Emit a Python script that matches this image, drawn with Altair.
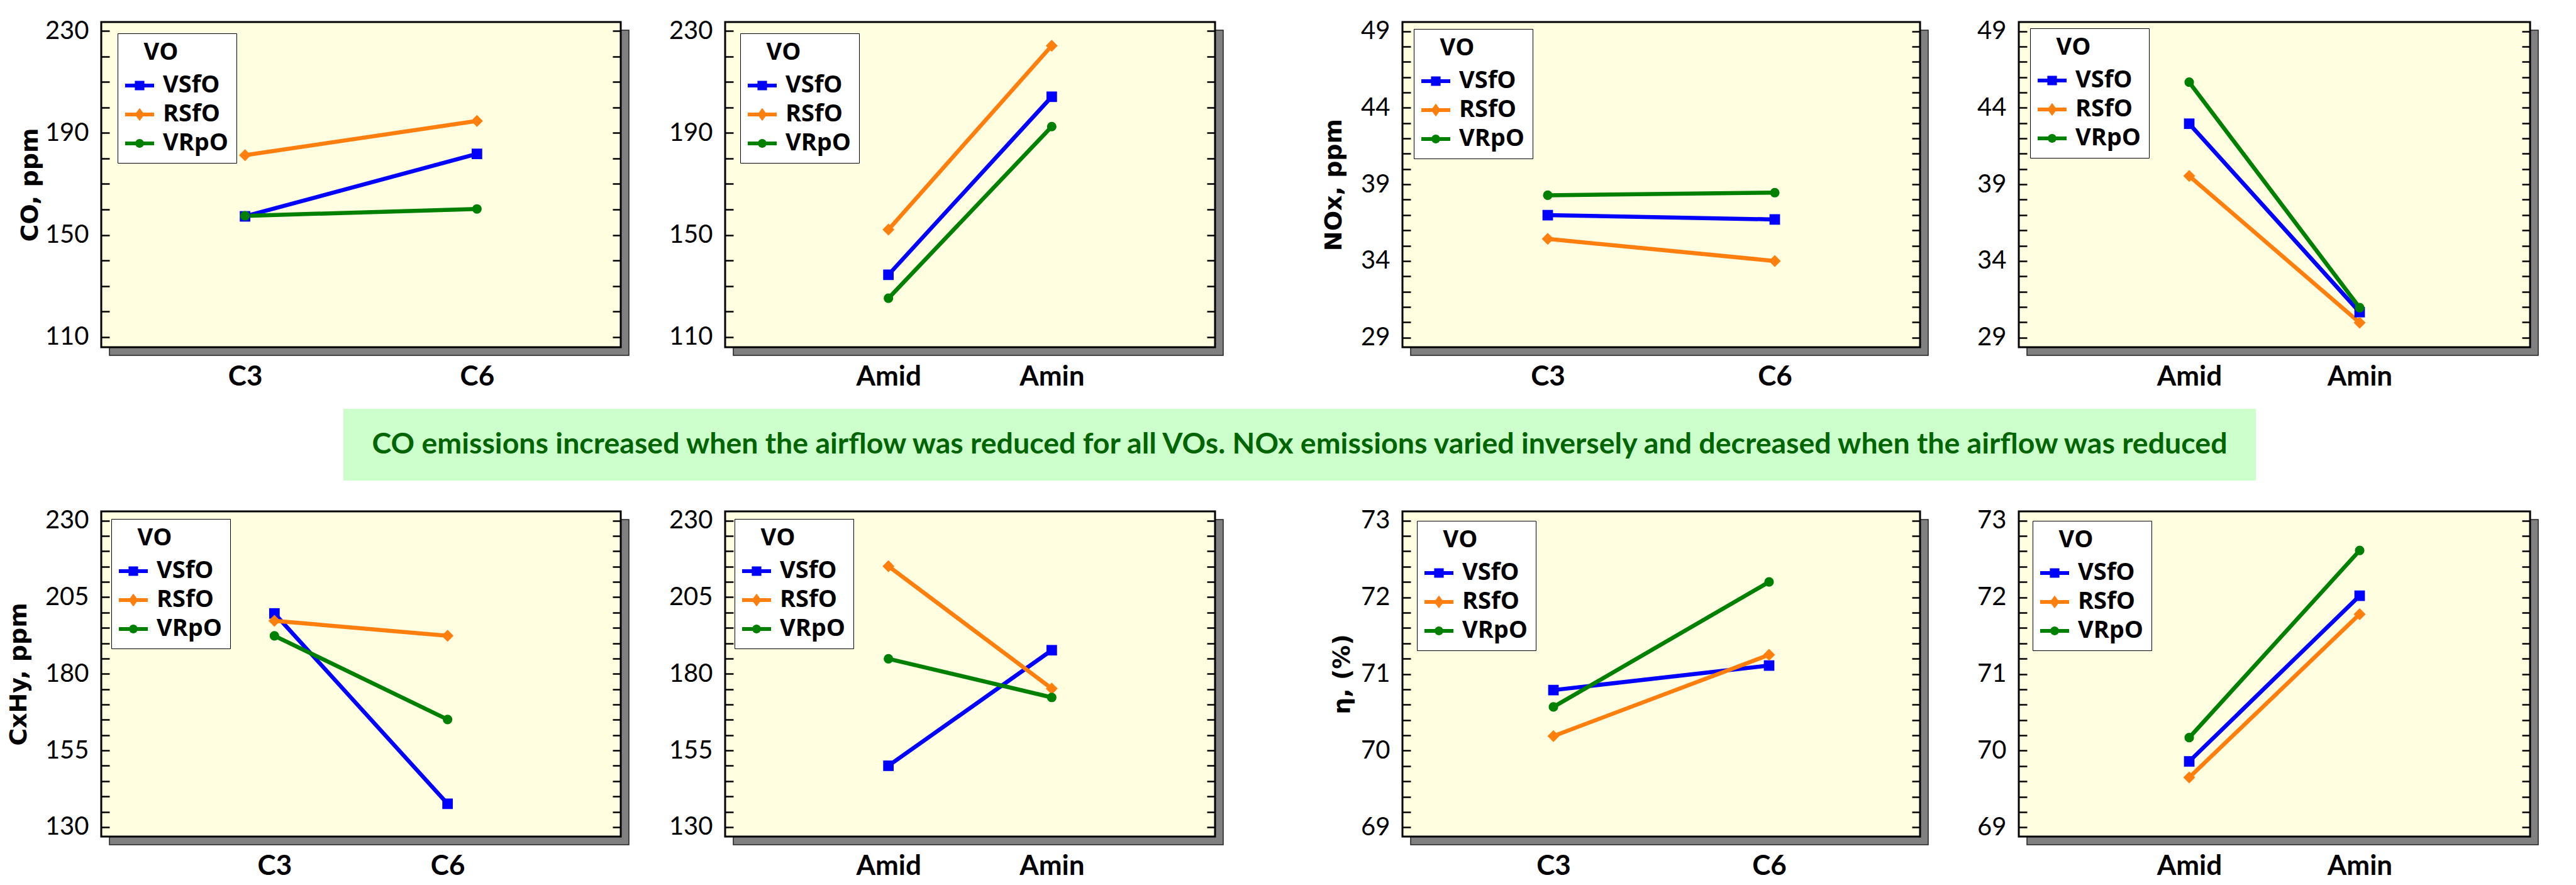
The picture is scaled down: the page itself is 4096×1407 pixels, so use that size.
import altair as alt
import pandas as pd

# ---------------- data ----------------
VO = ["VSfO", "RSfO", "VRpO"]
COLORS = ["#0000FF", "#FF7F0E", "#008000"]
CFG = ["C3", "C6"]
AIR = ["Amid", "Amin"]

# rows in VO order (VSfO, RSfO, VRpO); columns follow CFG or AIR
CO_CFG = [[157.3, 181.8], [181.3, 194.7], [157.5, 160.2]]
CO_AIR = [[134.4, 204.2], [152.1, 224.2], [125.2, 192.5]]
NOX_CFG = [[36.99, 36.71], [35.44, 34.00], [38.29, 38.46]]
NOX_AIR = [[42.96, 30.66], [39.55, 29.97], [45.67, 30.95]]
HC_CFG = [[199.7, 137.6], [197.3, 192.4], [192.4, 165.1]]
HC_AIR = [[150.0, 187.7], [215.1, 175.2], [184.9, 172.3]]
ETA_CFG = [[70.79, 71.11], [70.19, 71.25], [70.57, 72.20]]
ETA_AIR = [[69.86, 72.02], [69.65, 71.78], [70.17, 72.61]]

CO_TICKS = [110, 120, 130, 140, 150, 160, 170, 180, 190, 200, 210, 220, 230]
CO_MAJOR = [110, 150, 190, 230]
NOX_TICKS = [29, 30, 31, 32, 33, 34, 35, 36, 37, 38, 39, 40, 41, 42, 43, 44, 45, 46, 47, 48, 49]
NOX_MAJOR = [29, 34, 39, 44, 49]
HC_TICKS = [130, 135, 140, 145, 150, 155, 160, 165, 170, 175, 180, 185, 190, 195, 200,
            205, 210, 215, 220, 225, 230]
HC_MAJOR = [130, 155, 180, 205, 230]
ETA_TICKS = [69.0, 69.2, 69.4, 69.6, 69.8, 70.0, 70.2, 70.4, 70.6, 70.8, 71.0, 71.2, 71.4,
             71.6, 71.8, 72.0, 72.2, 72.4, 72.6, 72.8, 73.0]
ETA_MAJOR = [69, 70, 71, 72, 73]

SUMMARY = ["CO emissions increased when the airflow was reduced for all VOs. "
           "NOx emissions varied inversely and decreased when the airflow was reduced"]

# ---------------- style ----------------
S = 13          # 3D shadow depth
H = 517         # panel plot height
W_COL = [826, 779, 823, 813]
GAPS = [166, 298, 157]   # gaps between plot frames
SP = 10                  # hconcat spacing

LEG_SQ = "M-1,-0.13H1V0.13H-1Z M-0.33,-0.33H0.33V0.33H-0.33Z"
LEG_DI = "M-1,-0.13H1V0.13H-1Z M0,-0.45L0.33,0L0,0.45L-0.33,0Z"
LEG_CI = "M-1,-0.13H1V0.13H-1Z M-0.3,0A0.3,0.3 0 1,1 0.3,0A0.3,0.3 0 1,1 -0.3,0Z"

color_scale = alt.Scale(domain=VO, range=COLORS)
legend_shape_scale = alt.Scale(domain=VO, range=[LEG_SQ, LEG_DI, LEG_CI])

series_color = alt.ColorValue(value=COLORS[2], condition=[
    {"test": "datum.VO === '%s'" % VO[0], "value": COLORS[0]},
    {"test": "datum.VO === '%s'" % VO[1], "value": COLORS[1]}])
series_shape = alt.ShapeValue(value="circle", condition=[
    {"test": "datum.VO === '%s'" % VO[0], "value": "square"},
    {"test": "datum.VO === '%s'" % VO[1], "value": "diamond"}])
series_size = alt.SizeValue(value=230, condition=[
    {"test": "datum.VO === '%s'" % VO[0], "value": 280},
    {"test": "datum.VO === '%s'" % VO[1], "value": 360}])


def panel(values, cats, ytitle, ticks, major, ydom, w, xpad, lx, ly, tpad):
    rows = [{"VO": VO[i], "x": cats[j], "y": values[i][j]}
            for i in range(len(VO)) for j in range(len(cats))]
    df = pd.DataFrame(rows)
    one = alt.Data(values=[{}])

    shadow = alt.Chart(one).mark_rect(fill="#808080", stroke="#202020", strokeWidth=1.5).encode(
        x=alt.value(S), x2=alt.value(w + S), y=alt.value(S), y2=alt.value(H + S))
    frame = alt.Chart(one).mark_rect(fill="#FFFEE0", stroke="black", strokeWidth=3).encode(
        x=alt.value(0), x2=alt.value(w), y=alt.value(0), y2=alt.value(H))

    xs = alt.Scale(type="point", domain=cats, padding=xpad)
    ys = alt.Scale(domain=ydom, nice=False, zero=False)
    lexpr = "indexof(%s, datum.value) >= 0 ? datum.label : ''" % str(major)

    xaxis = alt.Axis(title=None, labelAngle=0, ticks=False, domain=False, grid=False,
                     labelFont="Lato", labelFontSize=44, labelFontWeight="bold",
                     labelColor="black", labelPadding=25, zindex=1)
    yaxis_l = alt.Axis(title=ytitle, values=ticks, labelExpr=lexpr, format=".0f",
                       offset=-S, tickSize=S, tickWidth=2.5, tickColor="black",
                       domain=False, grid=False, labelFont="Lato", labelFontSize=40,
                       labelColor="black", labelPadding=20, labelOverlap=False,
                       labelFlush=False, titleFont="DejaVu Sans", titleFontSize=38,
                       titleFontWeight="bold", titleColor="black", titlePadding=tpad,
                       zindex=1)
    yaxis_r = alt.Axis(orient="right", values=ticks, labels=False, title=None,
                       offset=-S, tickSize=S, tickWidth=2.5, tickColor="black",
                       domain=False, grid=False, zindex=1)

    legend = alt.Legend(
        title="\u200b\u00a0\u00a0\u00a0VO", orient="none", legendX=lx, legendY=ly,
        fillColor="white", strokeColor="black", padding=12, zindex=2,
        titleFont="Open Sans", titleFontSize=38, titleFontWeight="bold", titleColor="black",
        titlePadding=10,
        labelFont="Open Sans", labelFontSize=38, labelFontWeight="bold", labelColor="black",
        labelOffset=14, symbolSize=2116, symbolStrokeWidth=0, symbolOpacity=1,
        rowPadding=4,
    )
    # invisible layer that only feeds the legend (line + marker symbols)
    leg = alt.Chart(df).mark_point(filled=True, opacity=0).encode(
        x=alt.X("x:N", scale=xs, axis=xaxis),
        y=alt.Y("y:Q", scale=ys, axis=None),
        color=alt.Color("VO:N", scale=color_scale, legend=legend),
        shape=alt.Shape("VO:N", scale=legend_shape_scale, legend=legend),
    )
    line = alt.Chart(df).mark_line(strokeWidth=6.5).encode(
        x=alt.X("x:N", scale=xs, axis=xaxis),
        y=alt.Y("y:Q", scale=ys, axis=yaxis_l),
        detail="VO:N",
        color=series_color,
    )
    pts = alt.Chart(df).mark_point(filled=True, opacity=1).encode(
        x=alt.X("x:N", scale=xs, axis=xaxis),
        y=alt.Y("y:Q", scale=ys, axis=None),
        color=series_color,
        shape=series_shape,
        size=series_size,
    )
    rax = alt.Chart(df).mark_point(opacity=0).encode(
        x=alt.X("x:N", scale=xs, axis=xaxis),
        y=alt.Y("y:Q", scale=ys, axis=yaxis_r),
    )
    return alt.layer(shadow, frame, leg, line, pts, rax).resolve_axis(y="independent").properties(
        width=w, height=H)


def spacer(w):
    return alt.Chart(alt.Data(values=[{}])).mark_point(opacity=0).encode(
        x=alt.value(0), y=alt.value(0)).properties(width=w, height=H)


def indep(c):
    return c.resolve_scale(color="independent", shape="independent").resolve_legend(
        color="independent", shape="independent")


def row(a, b, c, d):
    return indep(alt.hconcat(a, spacer(GAPS[0] - 2 * SP), b, spacer(GAPS[1] - 2 * SP), c,
                             spacer(GAPS[2] - 2 * SP), d, spacing=SP, bounds="flush"))


p1 = panel(CO_CFG, CFG, "CO, ppm", CO_TICKS, CO_MAJOR, [106, 233.5], W_COL[0], 0.62, 26, 18, 4)
p2 = panel(CO_AIR, AIR, None, CO_TICKS, CO_MAJOR, [106, 233.5], W_COL[1], 1.06, 24, 18, 4)
p3 = panel(NOX_CFG, CFG, "NOx, ppm", NOX_TICKS, NOX_MAJOR, [28.37, 49.6], W_COL[2], 0.64, 18, 11, 23)
p4 = panel(NOX_AIR, AIR, None, NOX_TICKS, NOX_MAJOR, [28.37, 49.6], W_COL[3], 1.04, 18, 10, 4)
p5 = panel(HC_CFG, CFG, "CxHy, ppm", HC_TICKS, HC_MAJOR, [126.9, 233], W_COL[0], 1.07, 16, 12, 22)
p6 = panel(HC_AIR, AIR, None, HC_TICKS, HC_MAJOR, [126.9, 233], W_COL[1], 1.06, 15, 12, 4)
p7 = panel(ETA_CFG, CFG, "η, (%)", ETA_TICKS, ETA_MAJOR, [68.88, 73.12], W_COL[2], 0.70, 23, 15, 10)
p8 = panel(ETA_AIR, AIR, None, ETA_TICKS, ETA_MAJOR, [68.88, 73.12], W_COL[3], 1.05, 22, 15, 4)

row1 = row(p1, p2, p3, p4)
row2 = row(p5, p6, p7, p8)

BX0, BX1, BH = 385, 3426, 114
band_rect = alt.Chart(alt.Data(values=[{}])).mark_rect(fill="#CCFFCC").encode(
    x=alt.value(BX0), x2=alt.value(BX1), y=alt.value(0), y2=alt.value(BH))
band_text = alt.Chart(pd.DataFrame({"t": SUMMARY})).mark_text(
    font="Lato", fontSize=46.5, fontWeight="bold", color="#006400",
    align="center", baseline="middle").encode(
    x=alt.value((BX0 + BX1) / 2), y=alt.value(BH / 2), text="t:N")
band = alt.layer(band_rect, band_text).properties(width=BX1, height=BH)

top = indep(alt.vconcat(row1, band, spacing=29))
chart = indep(alt.vconcat(top, row2, spacing=43)).properties(
    padding={"left": 3, "top": 21, "right": 10, "bottom": 10},
    background="white",
).configure_view(stroke=None)

chart.save("out.html", embed_options={"renderer": "svg", "actions": False})
